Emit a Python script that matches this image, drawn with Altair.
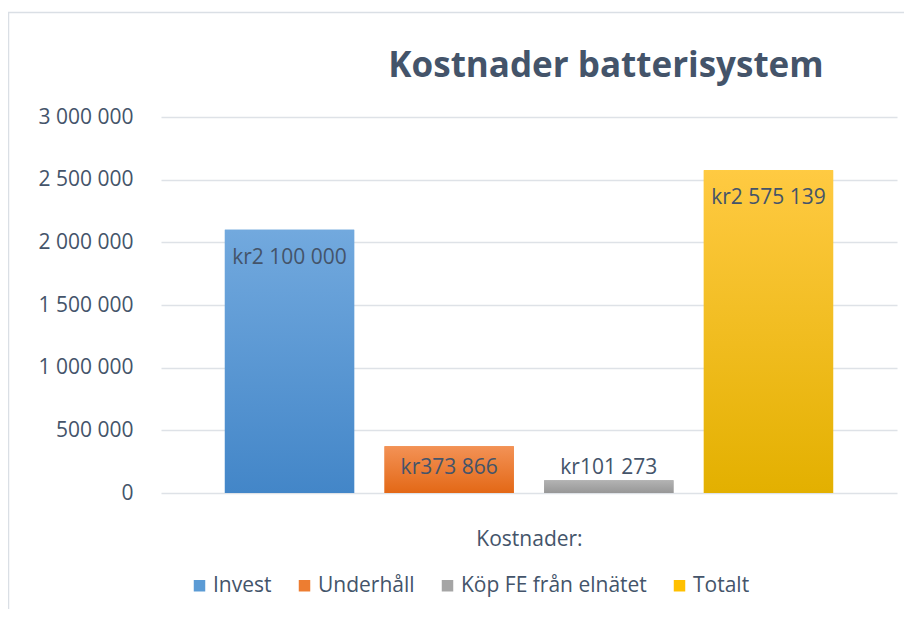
import altair as alt
import pandas as pd

series = ["Invest", "Underhåll", "Köp FE från elnätet", "Totalt"]
values = [2100000, 373866, 101273, 2575139]
solid_colors = ["#5B9BD5", "#ED7D31", "#A5A5A5", "#FFC000"]
grad_top = ["#72A9DE", "#F39256", "#B3B3B3", "#FFCA42"]
grad_bottom = ["#4386C8", "#E36816", "#979797", "#E3B000"]
y_ticks = [0, 500000, 1000000, 1500000, 2000000, 2500000, 3000000]

labels = ["kr" + f"{v:,}".replace(",", " ") for v in values]
df = pd.DataFrame({"series": series, "value": values, "label": labels})

FONT = "Open Sans"
TXT = "#44546A"
W, H = 736, 376

xscale = alt.Scale(domain=series, paddingInner=0.19, paddingOuter=0.40)
yscale = alt.Scale(domain=[0, 3000000], nice=False)

x_enc = alt.X("series:N", scale=xscale, sort=series,
              axis=alt.Axis(labels=False, ticks=False, domain=False, grid=False,
                            title="Kostnader:", titleFont=FONT, titleFontSize=21,
                            titleFontWeight="normal", titleColor=TXT, titlePadding=35))
y_enc = alt.Y("value:Q", scale=yscale,
              axis=alt.Axis(values=y_ticks, title=None, domain=False, ticks=False,
                            labelPadding=28, labelFont=FONT, labelFontSize=21,
                            labelColor=TXT, gridColor="#DEE2E7", gridWidth=1.5,
                            labelExpr="replace(replace(format(datum.value, ','), ',', ' '), ',', ' ')"))

base = alt.Chart(df).mark_bar().encode(
    x=x_enc, y=y_enc,
    color=alt.Color("series:N", sort=series,
                    scale=alt.Scale(domain=series, range=solid_colors),
                    legend=alt.Legend(title=None, orient="none", direction="horizontal",
                                      columns=4, legendX=28, legendY=458, padding=0,
                                      symbolType="square", symbolSize=132,
                                      symbolStrokeWidth=0, labelOffset=3,
                                      columnPadding=22, labelFont=FONT,
                                      labelFontSize=21, labelColor=TXT,
                                      labelLimit=400)),
)

layers = [base]
for s, t, b in zip(series, grad_top, grad_bottom):
    g = alt.LinearGradient(gradient="linear", x1=0, x2=0, y1=0, y2=1,
                           stops=[alt.GradientStop(color=t, offset=0),
                                  alt.GradientStop(color=b, offset=1)])
    layers.append(
        alt.Chart(df).transform_filter(alt.datum.series == s)
        .mark_bar(color=g).encode(x=alt.X("series:N", sort=series), y="value:Q")
    )

def text_layer(cond, dy):
    return alt.Chart(df).transform_filter(cond).mark_text(
        baseline="middle", dy=dy, font=FONT, fontSize=21, color=TXT
    ).encode(x=alt.X("series:N", sort=series), y="value:Q", text="label:N")

layers.append(text_layer(alt.datum.value > 1000000, 28))
layers.append(text_layer((alt.datum.value > 200000) & (alt.datum.value <= 1000000), 22))
layers.append(text_layer(alt.datum.value <= 200000, -12))

frame = pd.DataFrame({"a": [0]})
left_rule = alt.Chart(frame).mark_rule(color="#DADFE5", strokeWidth=1.5).encode(
    x=alt.value(-152.5), y=alt.value(-104.5), y2=alt.value(H + 120))
top_rule = alt.Chart(frame).mark_rule(color="#DADFE5", strokeWidth=1.5).encode(
    x=alt.value(-153), x2=alt.value(W + 10), y=alt.value(-104.5))
layers += [left_rule, top_rule]

chart = alt.layer(*layers).properties(
    width=W, height=H,
    background="white",
    padding={"left": 153, "top": 109, "right": 7, "bottom": 116},
    autosize=alt.AutoSizeParams(type="none"),
    title=alt.TitleParams("Kostnader batterisystem", font=FONT, fontSize=35,
                          fontWeight="bold", color=TXT, anchor="middle",
                          dx=77, dy=125, baseline="bottom", offset=18),
).configure_view(stroke=None)

chart.save("out.html", embed_options={"renderer": "svg", "actions": False})
